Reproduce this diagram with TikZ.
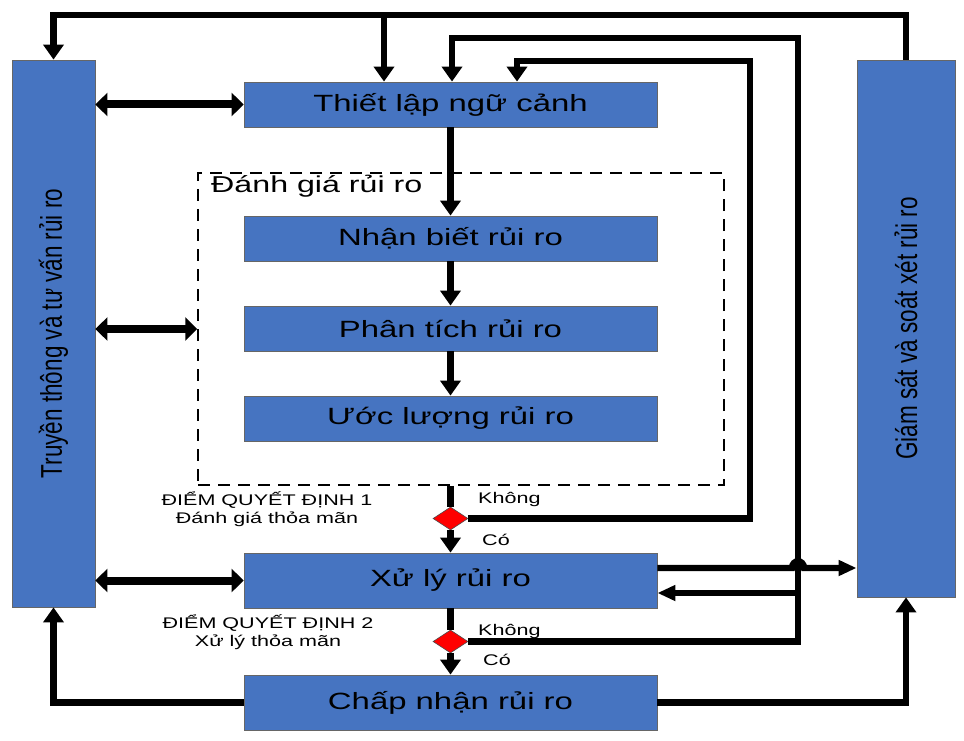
\documentclass[tikz,border=0pt]{standalone}
\usepackage{fontspec}
\setmainfont{Liberation Sans}
\newfontfamily\hfont[FakeStretch=1.4]{Liberation Sans}
\newfontfamily\vfont[FakeStretch=0.75]{Liberation Sans}
\usetikzlibrary{arrows.meta,shapes.geometric}
\definecolor{boxblue}{RGB}{70,116,193}
\begin{document}
\begin{tikzpicture}[x=1pt,y=-1pt,
  blk/.style={draw=black!60, line width=0.8pt, fill=boxblue, inner sep=0pt,
    font=\hfont\fontsize{23.5}{26}\selectfont},
  vtxt/.style={rotate=90, inner sep=0pt, font=\vfont\fontsize{30}{34}\selectfont},
  lbl/.style={inner sep=0pt, font=\hfont\fontsize{23}{26}\selectfont},
  sml/.style={inner sep=0pt, font=\hfont\fontsize{15.4}{17.5}\selectfont},
  dec/.style={diamond, draw=black!70, line width=0.6pt, fill=red, inner sep=0pt,
    minimum width=35pt, minimum height=23pt},
  ln/.style={line width=6.2pt},
  arv/.style={ln, -{Triangle[width=20pt,length=15pt]}},
  arh/.style={ln, -{Triangle[width=15pt,length=18pt]}},
  dbl/.style={line width=8pt, {Triangle[width=23pt,length=12pt]}-{Triangle[width=23pt,length=12pt]}}
]
\useasboundingbox (0,0) rectangle (964,741);

% side boxes
\node[blk, minimum width=83pt, minimum height=547pt] (left) at (53.5,333.5) {};
\node[vtxt] (lefttxt) at (left.center) {Truyền thông và tư vấn rủi ro};
\node[blk, minimum width=98pt, minimum height=537pt] (right) at (906,328.5) {};
\node[vtxt] (righttxt) at (right.center) {Giám sát và soát xét rủi ro};

% main boxes
\node[blk, minimum width=413pt, minimum height=45pt] (tl) at (450.5,104.5) {Thiết lập ngữ cảnh};
\node[draw, dash pattern=on 12pt off 8pt, line width=1.5pt, minimum width=526pt, minimum height=312pt, inner sep=0pt] (da) at (461,329) {};
\node[lbl, anchor=base west] (dalbl) at (211,193) {Đánh giá rủi ro};
\node[blk, minimum width=413pt, minimum height=45pt] (nb) at (450.5,238.5) {Nhận biết rủi ro};
\node[blk, minimum width=413pt, minimum height=45pt] (pt) at (450.5,328.5) {Phân tích rủi ro};
\node[blk, minimum width=413pt, minimum height=45pt] (ul) at (450.5,418.5) {Ước lượng rủi ro};
\node[blk, minimum width=413pt, minimum height=55pt] (xl) at (450.5,580.5) {Xử lý rủi ro};
\node[blk, minimum width=413pt, minimum height=55pt] (cn) at (450.5,702.5) {Chấp nhận rủi ro};

% decisions
\node[dec] (d1) at (450.5,518.5) {};
\node[dec] (d2) at (450.5,641.5) {};
\node[sml, align=center] (q1) at (267,509) {ĐIỂM QUYẾT ĐỊNH 1\\Đánh giá thỏa mãn};
\node[sml, align=center] (q2) at (268,632) {ĐIỂM QUYẾT ĐỊNH 2\\Xử lý thỏa mãn};
\node[sml, anchor=base west] (k1) at (478,503) {Không};
\node[sml, anchor=base west] (c1) at (482,545) {Có};
\node[sml, anchor=base west] (k2) at (478,635) {Không};
\node[sml, anchor=base west] (c2) at (483,665) {Có};

% coordinates
\coordinate (ytop) at (0,15);
\coordinate (xbr) at (384,0);
\coordinate (r1) at (750,61);
\coordinate (x1) at (517,0);
\coordinate (r2) at (798,38);
\coordinate (x2) at (452,0);
\coordinate (b2) at (798,593);
\coordinate (h1) at (0,568);
\coordinate (hopL) at (792,568);
\coordinate (hopR) at (804,568);

% main chain
\draw[arv] (tl.south) -- (nb.north);
\draw[arv] (nb.south) -- (pt.north);
\draw[arv] (pt.south) -- (ul.north);
\draw[ln] (da.south -| d1.north) -- (d1.north);
\draw[arv] (d1.south) -- (xl.north);
\draw[ln] (xl.south) -- (d2.north);
\draw[arv] (d2.south) -- (cn.north);

% top feedback
\draw[arv] (right.north) |- (left.north |- ytop) -- (left.north);
\draw[arv] (xbr |- ytop) -- (xbr |- tl.north);

% decision loops
\draw[arv] (d1.east) -| (r1) -| (tl.north -| x1);
\draw[arv] (d2.east) -| (r2) -| (tl.north -| x2);
\draw[arh] (b2) -- (b2 -| xl.east);

% treatment to monitoring with hop
\draw[arh] (xl.east |- h1) -- (hopL) .. controls (792,559) and (804,559) .. (hopR) -- (right.west |- h1);

% acceptance outputs
\draw[arv] (cn.west) -| (left.south);
\draw[arv] (cn.east) -| (right.south);

% two-way communication
\draw[dbl] (left.east |- tl.west) -- (tl.west);
\draw[dbl] (left.east |- da.west) -- (da.west);
\draw[dbl] (left.east |- xl.west) -- (xl.west);
\end{tikzpicture}
\end{document}
